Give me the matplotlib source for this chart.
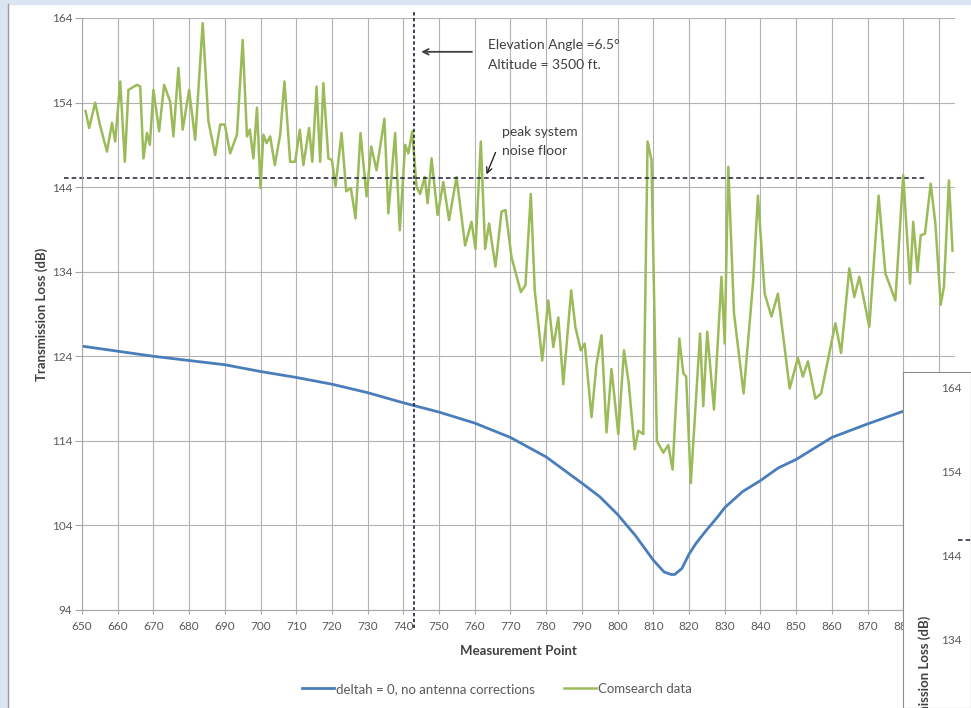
import numpy as np
import matplotlib.pyplot as plt
from matplotlib.patches import Rectangle
from matplotlib.lines import Line2D

plt.rcParams['font.family'] = ['Lato', 'DejaVu Sans']

# model curve: deltah = 0, no antenna corrections
blue_x = [650, 660, 670, 680, 690, 700, 710, 720, 730, 740, 750, 760, 770, 780, 790, 795,
          800, 805, 810, 813, 815, 816, 818, 820, 822, 825, 828, 830, 835, 840, 845, 850,
          860, 870, 880, 890]
blue_y = [125.2, 124.6, 124.0, 123.5, 123.0, 122.2, 121.5, 120.7, 119.7, 118.5, 117.4, 116.1,
          114.4, 112.1, 109.0, 107.4, 105.3, 102.8, 99.9, 98.5, 98.2, 98.2, 98.9, 100.6,
          101.9, 103.5, 105.0, 106.1, 108.0, 109.3, 110.8, 111.8, 114.4, 116.0, 117.5, 118.6]

# measured: Comsearch data
green_x = [651, 652, 653.7, 655, 657, 658.4, 659.3, 660.7, 662, 663, 665.4, 666.3, 667.2, 668.2,
           669, 670, 671.6, 673, 674.7, 675.6, 677, 678.2, 680, 681.7, 683.8, 685.4, 687.3,
           688.7, 690, 691.5, 693.4, 695, 696.2, 697, 698, 699, 700, 700.8, 701.7, 702.7, 704,
           705.5, 706.7, 708.3, 709.7, 711, 712, 713.6, 714.5, 715.7, 716.7, 717.6, 719, 720,
           721, 722.7, 724, 725.3, 726.6, 728, 729.7, 731, 732.5, 734.7, 735.8, 737.7, 739,
           740.5, 741.4, 742.5, 743.7, 744.7, 746, 746.8, 747.9, 749.6, 751.2, 752.8, 754.9,
           757.3, 759.1, 760.2, 761.7, 762.9, 764, 765.8, 767.5, 768.6, 770.3, 772.9, 774.2,
           775.7, 776.8, 778.9, 780.6, 782, 783.4, 784.8, 787, 788.2, 789.7, 790.8, 792.7,
           794.1, 795.5, 796.9, 798.3, 800.2, 801.8, 803.1, 804.8, 805.8, 807.2, 808.4, 809.5,
           811, 812.8, 814.2, 815.4, 817.3, 818.4, 819.2, 820.5, 823.1, 824, 825.1, 827, 829.1,
           830, 831, 832.6, 835.3, 838, 839.3, 841.2, 843.1, 844.9, 848.2, 850.5, 851.9, 853.3,
           855.4, 857, 861, 862.6, 864.9, 866.3, 867.7, 870.5, 873.1, 875, 877.8, 880, 881.9,
           882.8, 884, 884.9, 886.1, 887.7, 889, 890.5, 891.4, 892.8, 893.8]
green_y = [153.0, 151.0, 154.0, 151.4, 148.2, 151.6, 149.4, 156.5, 147.0, 155.5, 156.1, 155.9,
           147.4, 150.4, 149.0, 155.5, 150.6, 156.1, 154.1, 150.0, 158.1, 150.8, 155.5, 149.6,
           163.4, 151.8, 147.8, 151.4, 151.4, 148.0, 150.2, 161.4, 150.0, 150.8, 147.4, 153.4,
           143.9, 150.2, 149.2, 150.0, 146.6, 150.2, 156.5, 147.0, 147.0, 150.8, 146.6, 151.0,
           147.0, 155.9, 147.0, 156.3, 147.4, 147.2, 144.1, 150.4, 143.5, 143.9, 140.3, 150.4,
           142.9, 148.8, 146.0, 152.1, 140.9, 150.4, 138.9, 149.0, 148.0, 150.6, 144.0, 143.2,
           145.2, 142.1, 147.4, 140.7, 144.6, 140.1, 145.2, 137.1, 139.9, 136.7, 149.4, 136.7,
           139.7, 134.6, 141.1, 141.3, 135.7, 131.6, 132.4, 143.2, 131.8, 123.5, 130.6, 125.1,
           128.6, 120.7, 131.8, 127.4, 124.7, 125.5, 116.8, 123.1, 126.5, 115.0, 122.5, 114.8,
           124.7, 120.9, 113.0, 115.2, 114.8, 149.4, 147.2, 114.0, 112.6, 113.5, 110.6, 126.1,
           122.0, 121.6, 109.0, 126.7, 118.1, 126.9, 117.7, 133.4, 125.5, 146.4, 129.1, 119.6,
           133.0, 143.0, 131.4, 128.7, 131.4, 120.2, 123.8, 121.6, 123.4, 119.0, 119.6, 127.9,
           124.4, 134.4, 131.0, 133.4, 127.5, 143.0, 133.8, 130.6, 145.4, 132.6, 139.9, 134.0,
           138.3, 138.5, 144.4, 139.7, 130.1, 132.2, 144.8, 136.5]

y_ticks = [94, 104, 114, 124, 134, 144, 154, 164]
x_ticks = list(range(650, 891, 10))

noise_floor = 145.1
marker_x = 743

W, H = 971, 708
fig = plt.figure(figsize=(W / 100, H / 100), dpi=100)

# screenshot frame
fig.patches.append(Rectangle((0, 0), 8 / W, 1, transform=fig.transFigure, color='#dbe5f1', zorder=-5))
fig.patches.append(Rectangle((0, 1 - 4 / H), 1, 4 / H, transform=fig.transFigure, color='#dbe5f1', zorder=-5))
fig.lines.append(Line2D([8 / W, 8 / W], [0, 1 - 4 / H], transform=fig.transFigure, color='#9a9a9a', lw=1))

ax = fig.add_axes([82 / W, 1 - 610 / H, (955 - 82) / W, (610 - 18) / H])
ax.plot(blue_x, blue_y, color='#4a7ebb', lw=2, label='deltah = 0, no antenna corrections')
ax.plot(green_x, green_y, color='#9bbb59', lw=1.8, label='Comsearch data')

ax.set_xlim(650, 894.5)
ax.set_ylim(94, 164)
ax.set_xticks(x_ticks)
ax.set_yticks(y_ticks)
ax.grid(True, color='#b3b3b3', lw=0.8)
ax.set_axisbelow(True)
for s in ['top', 'right']:
    ax.spines[s].set_visible(False)
for s in ['left', 'bottom']:
    ax.spines[s].set_color('#a6a6a6')
ax.tick_params(axis='both', colors='#a6a6a6', labelcolor='#595959', labelsize=8.5)
ax.tick_params(axis='x', length=3, pad=5)
ax.tick_params(axis='y', length=5, pad=2)
ax.set_xlabel('Measurement Point', fontsize=9.5, fontweight='bold', color='#404040', labelpad=9)
ax.set_ylabel('Transmission Loss (dB)', fontsize=9.5, fontweight='bold', color='#404040', labelpad=3)

# annotations
ax.plot([marker_x, marker_x], [91.9, 164.7], color='#1f1f3a', lw=1.2, ls=(0, (2, 1.5)), clip_on=False)
ax.plot([645, 886.3], [noise_floor, noise_floor], color='#1f1f3a', lw=1.1, ls=(0, (3, 2)), clip_on=False)
ax.annotate('', xy=(744.2, 160.0), xytext=(760, 160.0),
            arrowprops=dict(arrowstyle='->', color='#404040', lw=1.3))
ax.text(763.8, 159.6, 'Elevation Angle =6.5°\nAltitude = 3500 ft.', fontsize=10,
        color='#404040', va='center', ha='left', linespacing=1.75)
ax.annotate('', xy=(763.0, 145.2), xytext=(766.1, 148.4),
            arrowprops=dict(arrowstyle='->', color='#262626', lw=1))
ax.text(767.5, 149.4, 'peak system\nnoise floor', fontsize=10, color='#404040',
        va='center', ha='left', linespacing=1.75)

fig.legend(loc='center', bbox_to_anchor=(497 / W, 1 - 689 / H), ncol=2, frameon=False,
           fontsize=9.5, handlelength=2.4, columnspacing=2.2, handletextpad=0.15,
           labelcolor='#595959')

# overlapping second chart in lower-right corner
box = fig.add_axes([903 / W, 0, (W - 903) / W, (H - 372) / H])
box.set_xticks([])
box.set_yticks([])
box.set_facecolor('white')
for s in box.spines.values():
    s.set_color('#8c8c8c')
box.set_zorder(5)

unit = 84 / H / 10
top = 1 - 388 / H
ax2 = fig.add_axes([970 / W, top - 70 * unit, 0.05, 70 * unit])
ax2.set_zorder(6)
ax2.patch.set_alpha(0)
ax2.set_ylim(94, 164)
ax2.set_yticks(y_ticks)
ax2.set_xticks([])
for s in ax2.spines.values():
    s.set_visible(False)
ax2.tick_params(axis='y', length=0, pad=6, labelsize=8.5, labelcolor='#595959')
ax2.set_ylabel('Transmission Loss (dB)', fontsize=9.5, fontweight='bold', color='#404040', labelpad=7)
ax2.plot([-0.25, 0.1], [145.9, 145.9], color='#1f1f3a', lw=1.1, ls=(0, (3, 2)), clip_on=False,
         transform=ax2.get_yaxis_transform())

fig.savefig('out.png', dpi=100)
